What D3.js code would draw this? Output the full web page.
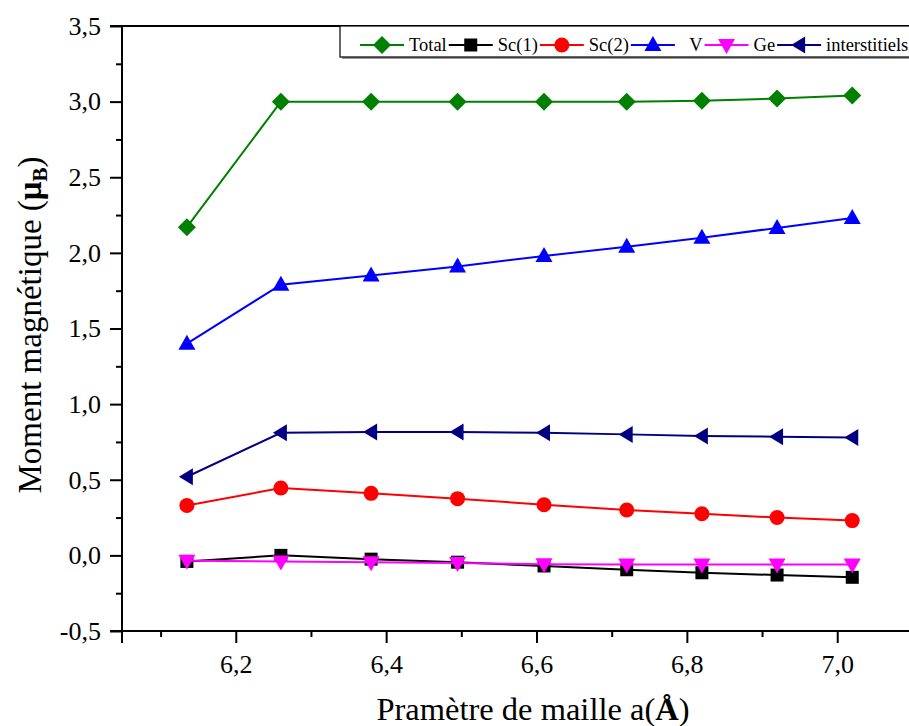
<!DOCTYPE html>
<html>
<head>
<meta charset="utf-8">
<script src="https://cdn.jsdelivr.net/npm/d3@7"></script>
<style>
  html, body { margin: 0; padding: 0; background: #ffffff; }
  svg { display: block; }
  svg text { font-family: "Liberation Serif", "Times New Roman", Times, serif !important; fill: #000; }
</style>
</head>
<body>
<svg id="chart" width="909" height="726"></svg>
<script>
// Lattice parameter a (Å)
const latticeA = [6.135, 6.26, 6.38, 6.495, 6.61, 6.72, 6.82, 6.92, 7.02];

// Magnetic moments (µB) per site
const total         = [2.17, 3.00, 3.00, 3.00, 3.00, 3.00, 3.005, 3.02, 3.04];
const sc1           = [-0.04, 0.00, -0.025, -0.045, -0.07, -0.095, -0.115, -0.13, -0.145];
const sc2           = [0.33, 0.445, 0.41, 0.375, 0.335, 0.30, 0.275, 0.25, 0.23];
const vanadium      = [1.40, 1.79, 1.85, 1.91, 1.98, 2.04, 2.10, 2.165, 2.23];
const germanium     = [-0.035, -0.04, -0.045, -0.05, -0.058, -0.06, -0.06, -0.06, -0.06];
const interstitiels = [0.52, 0.81, 0.815, 0.815, 0.81, 0.80, 0.79, 0.785, 0.78];

const seriesNames  = ["Total", "Sc(1)", "Sc(2)", "V", "Ge", "interstitiels"];
const seriesValues = [total, sc1, sc2, vanadium, germanium, interstitiels];
const seriesColors = ["#008000", "#000000", "#ff0000", "#0000ff", "#ff00ff", "#000080"];
const seriesShapes = ["diamond", "square", "circle", "triUp", "triDown", "triLeft"];

const xTicks = [6.2, 6.4, 6.6, 6.8, 7.0];
const yTicks = [-0.5, 0.0, 0.5, 1.0, 1.5, 2.0, 2.5, 3.0, 3.5];

const serif = '"Liberation Serif", "Times New Roman", Times, serif';
const svg = d3.select("#chart");

const x = d3.scaleLinear().domain([6.05, 7.15]).range([123, 950]);
const y = d3.scaleLinear().domain([-0.5, 3.5]).range([631, 26]);

const comma = v => d3.format(".1f")(v).replace(".", ",").replace("−", "-");

// Marker shapes
function markerPath(shape) {
  switch (shape) {
    case "diamond": return "M0,-9L9,0L0,9L-9,0Z";
    case "square":  return "M-6.5,-6.5H6.5V6.5H-6.5Z";
    case "circle":  return d3.symbol(d3.symbolCircle, Math.PI * 7.5 * 7.5)();
    case "triUp":   return "M0,-9L8.5,6L-8.5,6Z";
    case "triDown": return "M0,9L8.5,-6L-8.5,-6Z";
    case "triLeft": return "M-8,0L6,-8.5L6,8.5Z";
  }
}

// Frame: top border and right border
svg.append("line").attr("x1", 110).attr("x2", 950).attr("y1", 26).attr("y2", 26)
  .attr("stroke", "#000").attr("stroke-width", 2);
svg.append("line").attr("x1", 950).attr("x2", 950).attr("y1", 26).attr("y2", 631)
  .attr("stroke", "#000").attr("stroke-width", 2);

// Minor ticks
const xMinor = d3.range(6.1, 7.15, 0.2);
const yMinor = d3.range(-0.25, 3.5, 0.5);

svg.append("g").attr("transform", "translate(0,631)")
  .call(d3.axisBottom(x).tickValues(xMinor).tickSize(6).tickFormat(""))
  .call(g => g.select(".domain").remove())
  .call(g => g.selectAll("line").attr("stroke-width", 2));

svg.append("g").attr("transform", "translate(122,0)")
  .call(d3.axisLeft(y).tickValues(yMinor).tickSize(6).tickFormat(""))
  .call(g => g.select(".domain").remove())
  .call(g => g.selectAll("line").attr("stroke-width", 2));

// Major axes
const xAxis = svg.append("g").attr("transform", "translate(0,631)")
  .call(d3.axisBottom(x).tickValues(xTicks).tickSize(12).tickSizeOuter(0).tickFormat(comma).tickPadding(12));
xAxis.attr("font-family", null).attr("font-size", null).style("font-family", serif).style("font-size", "26px");
xAxis.select(".domain").attr("stroke-width", 2).attr("d", "M110,0H950");
xAxis.selectAll("line").attr("stroke-width", 2);
xAxis.selectAll("text").style("font-family", serif).style("font-size", "26px");

const yAxis = svg.append("g").attr("transform", "translate(122,0)")
  .call(d3.axisLeft(y).tickValues(yTicks).tickSize(12).tickSizeOuter(0).tickFormat(comma).tickPadding(9));
yAxis.attr("font-family", null).attr("font-size", null).style("font-family", serif).style("font-size", "26px");
yAxis.select(".domain").attr("stroke-width", 2).attr("d", "M0,25V643");
yAxis.selectAll("line").attr("stroke-width", 2);
yAxis.selectAll("text").style("font-family", serif).style("font-size", "26px");

// Series lines and markers
const line = d3.line().x((d, i) => x(latticeA[i])).y(d => y(d));

seriesValues.forEach((vals, k) => {
  const g = svg.append("g");
  g.append("path").datum(vals)
    .attr("d", line)
    .attr("fill", "none")
    .attr("stroke", seriesColors[k])
    .attr("stroke-width", 2);
  g.selectAll("path.mk").data(vals).join("path")
    .attr("class", "mk")
    .attr("transform", (d, i) => `translate(${x(latticeA[i])},${y(d)})`)
    .attr("d", markerPath(seriesShapes[k]))
    .attr("fill", seriesColors[k]);
});

// Legend
const legend = svg.append("g");
legend.append("rect").attr("x", 342).attr("y", 28).attr("width", 620).attr("height", 31)
  .attr("fill", "#9a9a9a");
legend.append("rect").attr("x", 340).attr("y", 26).attr("width", 620).attr("height", 31)
  .attr("fill", "#fff").attr("stroke", "#000").attr("stroke-width", 1.2);

let cursor = 360;
seriesNames.forEach((name, k) => {
  const item = legend.append("g");
  item.append("line").attr("x1", cursor).attr("x2", cursor + 44).attr("y1", 45).attr("y2", 45)
    .attr("stroke", seriesColors[k]).attr("stroke-width", 2);
  item.append("path").attr("transform", `translate(${cursor + 22},45)`)
    .attr("d", markerPath(seriesShapes[k])).attr("fill", seriesColors[k]);
  const label = name === "V" ? "\u00a0\u00a0V" : name;
  const t = item.append("text").attr("x", cursor + 49).attr("y", 51)
    .style("font-size", "18.5px").text(label);
  cursor = cursor + 49 + t.node().getComputedTextLength() + 2;
});

// Axis titles
const xt = svg.append("text").attr("x", 533).attr("y", 720).attr("text-anchor", "middle")
  .style("font-size", "32.5px");
xt.append("tspan").text("Pramètre de maille a(");
xt.append("tspan").attr("font-weight", "bold").text("Å");
xt.append("tspan").text(")");

const yt = svg.append("text").attr("transform", "translate(41,325) rotate(-90)")
  .attr("text-anchor", "middle").style("font-size", "33px");
yt.append("tspan").text("Moment magnétique (");
yt.append("tspan").attr("font-weight", "bold").text("μ");
yt.append("tspan").attr("font-weight", "bold").style("font-size", "21px").attr("dy", 6).text("B");
yt.append("tspan").attr("dy", -6).text(")");
</script>
</body>
</html>
